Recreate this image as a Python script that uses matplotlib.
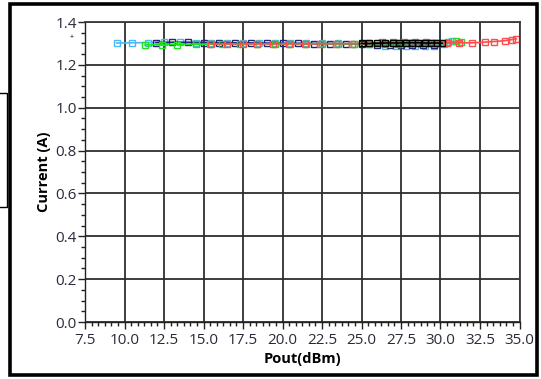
import matplotlib.pyplot as plt
import numpy as np
from matplotlib.ticker import MultipleLocator
from matplotlib.patches import Rectangle

plt.rcParams['font.family'] = ['Open Sans', 'DejaVu Sans']

# Pout (dBm) / Current (A) for each trace
cyan_x = [9.5, 10.5, 11.5, 12.5, 13.5, 14.5, 15.5, 16.5, 17.5, 18.5, 19.5, 20.5, 21.5, 22.5,
          23.5, 24.5, 25.5, 26.5, 27.2, 27.8, 28.4, 29.0, 29.6, 30.2, 30.7]
cyan_y = [1.302, 1.303, 1.304, 1.305, 1.305, 1.304, 1.303, 1.302, 1.302, 1.301, 1.301, 1.301, 1.300, 1.300,
          1.300, 1.299, 1.298, 1.290, 1.286, 1.286, 1.287, 1.288, 1.289, 1.296, 1.312]

navy_x = [12.0, 13.0, 14.0, 15.0, 16.0, 17.0, 18.0, 19.0, 20.0, 21.0, 22.0, 23.0, 24.0, 25.0,
          26.0, 26.8, 27.5, 28.2, 28.9, 29.6]
navy_y = [1.304, 1.305, 1.305, 1.304, 1.303, 1.302, 1.302, 1.301, 1.300, 1.300, 1.299, 1.299, 1.298, 1.297,
          1.293, 1.292, 1.291, 1.291, 1.292, 1.292]

green_x = [11.3, 12.4, 13.3, 14.5, 15.4, 16.2, 17.3, 18.4, 19.5, 20.5, 21.5, 22.5, 23.5, 24.5,
           25.5, 26.5, 27.3, 28.0, 28.7, 29.4, 30.0, 30.5, 31.0, 31.3]
green_y = [1.293, 1.294, 1.295, 1.296, 1.297, 1.297, 1.297, 1.298, 1.298, 1.298, 1.298, 1.298, 1.298, 1.298,
           1.298, 1.298, 1.299, 1.300, 1.300, 1.300, 1.301, 1.305, 1.310, 1.308]

red_x = [15.5, 16.5, 17.5, 18.4, 19.4, 20.4, 21.4, 22.4, 23.4, 24.4, 25.4, 26.4, 27.4, 28.2,
         29.0, 29.7, 30.4, 31.2, 32.0, 32.8, 33.4, 34.1, 34.5, 34.8]
red_y = [1.298, 1.298, 1.298, 1.298, 1.298, 1.298, 1.298, 1.298, 1.299, 1.299, 1.300, 1.301, 1.302, 1.302,
         1.302, 1.301, 1.302, 1.303, 1.303, 1.306, 1.309, 1.313, 1.318, 1.321]

gray_x = [26.3, 27.0, 27.7, 28.4, 29.1, 29.6]
gray_y = [1.306, 1.306, 1.305, 1.305, 1.305, 1.304]

black_x = [25.0, 25.5, 26.0, 26.5, 27.0, 27.4, 27.8, 28.2, 28.6, 29.0, 29.4, 29.8, 30.1]
black_y = [1.300, 1.300, 1.301, 1.302, 1.302, 1.302, 1.303, 1.303, 1.303, 1.302, 1.302, 1.302, 1.301]

series = [
    (cyan_x, cyan_y, '#4db8f5'),
    (navy_x, navy_y, '#23237a'),
    (green_x, green_y, '#1ee01e'),
    (gray_x, gray_y, '#808080'),
    (red_x, red_y, '#ff4d4d'),
    (black_x, black_y, '#000000'),
]

fig = plt.figure(figsize=(5.41, 3.79), dpi=100)
ax = fig.add_axes([85 / 541, 57 / 379, 434.5 / 541, 300 / 379])

for xs, ys, col in series:
    ax.plot(xs, ys, color=col, lw=1.2, marker='s', markersize=5,
            markerfacecolor='none', markeredgecolor=col, markeredgewidth=1.0)

ax.set_xlim(7.5, 35.0)
ax.set_ylim(0.0, 1.4)
ax.xaxis.set_major_locator(MultipleLocator(2.5))
ax.xaxis.set_minor_locator(MultipleLocator(2.5 / 6))
ax.yaxis.set_major_locator(MultipleLocator(0.2))
ax.yaxis.set_minor_locator(MultipleLocator(0.05))
ax.xaxis.set_major_formatter(lambda v, p: f'{v:.1f}')
ax.yaxis.set_major_formatter(lambda v, p: f'{v:.1f}')

ax.grid(True, which='major', color='#2e2e2e', lw=1.3)
ax.set_axisbelow(True)
for s in ['top', 'right']:
    ax.spines[s].set_color('#3a3a3a')
    ax.spines[s].set_linewidth(1.3)
for s in ['left', 'bottom']:
    ax.spines[s].set_color('#222222')
    ax.spines[s].set_linewidth(1.0)

ax.tick_params(which='major', direction='out', length=5, width=1, color='#222222',
               labelsize=11, labelcolor='#2a2a3a', pad=1)
ax.tick_params(axis='x', which='major', pad=3)
ax.tick_params(which='minor', direction='out', length=3, width=1, color='#222222')

ax.set_xlabel('Pout(dBm)', fontsize=10.5, fontweight='bold', labelpad=3)
ax.set_ylabel('Current (A)', fontsize=10.5, fontweight='bold', labelpad=3)

# small cursor mark near the top of the y axis
fig.text(72 / 541, 1 - 38 / 379, '+', fontsize=5, ha='center', va='center')

# outer black frame and the box peeking in at the left edge
fig.patches.append(Rectangle((9.5 / 541, 4 / 379), 527 / 541, 371 / 379, transform=fig.transFigure,
                             fill=False, ec='black', lw=2.6))
fig.patches.append(Rectangle((-5 / 541, 1 - 207 / 379), 12 / 541, 114 / 379, transform=fig.transFigure,
                             fill=False, ec='black', lw=1.0))

fig.savefig('out.png', dpi=100)
